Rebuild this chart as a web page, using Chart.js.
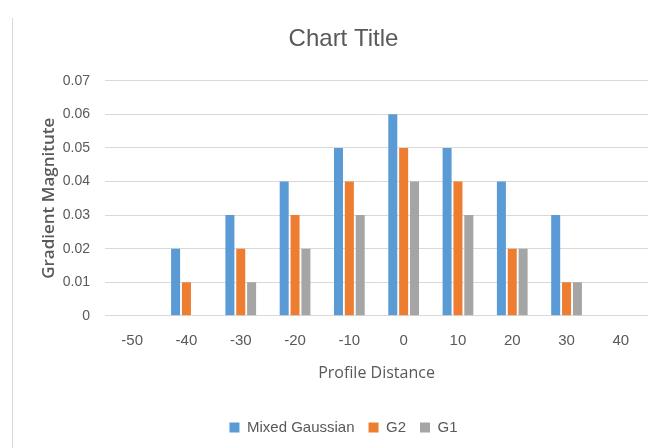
<!DOCTYPE html>
<html>
<head>
<meta charset="utf-8">
<script src="https://cdn.jsdelivr.net/npm/chart.js@4.4.1/dist/chart.umd.min.js"></script>
<style>
  html, body { margin: 0; padding: 0; background: #fff; }
  #wrap { position: relative; width: 648px; height: 448px; }
  #frame { position: absolute; left: 12px; top: 18px; width: 1px; height: 430px; background: #d9d9d9; }
  canvas { position: absolute; left: 0; top: 0; }
</style>
</head>
<body>
<div id="wrap">
  <div id="frame"></div>
  <canvas id="c" width="648" height="448"></canvas>
</div>
<script>
const categories = ["-50", "-40", "-30", "-20", "-10", "0", "10", "20", "30", "40"];
const mixedGaussian = [0, 0.02, 0.03, 0.04, 0.05, 0.06, 0.05, 0.04, 0.03, 0];
const g2 = [0, 0.01, 0.02, 0.03, 0.04, 0.05, 0.04, 0.02, 0.01, 0];
const g1 = [0, 0, 0.01, 0.02, 0.03, 0.04, 0.03, 0.02, 0.01, 0];
const yTicks = [0, 0.01, 0.02, 0.03, 0.04, 0.05, 0.06, 0.07];

const FONT = "'Liberation Sans Narrow', 'Liberation Sans', Arial, sans-serif";
const FONT2 = "'Open Sans', 'Liberation Sans', sans-serif";
const TXT = '#595959';

new Chart(document.getElementById('c'), {
  type: 'bar',
  data: {
    labels: categories,
    datasets: [
      { label: 'Mixed Gaussian', data: mixedGaussian, backgroundColor: '#5B9BD5' },
      { label: 'G2', data: g2, backgroundColor: '#ED7D31' },
      { label: 'G1', data: g1, backgroundColor: '#A5A5A5' }
    ]
  },
  options: {
    responsive: false,
    animation: false,
    devicePixelRatio: 1,
    categoryPercentage: 0.6,
    barPercentage: 0.83,
    layout: { padding: { left: 39, right: 0, top: 25, bottom: 3 } },
    plugins: {
      title: {
        display: true, text: 'Chart Title', color: TXT,
        font: { family: FONT, size: 24, weight: 'normal' },
        padding: { top: 0, bottom: 27 }
      },
      legend: {
        position: 'bottom',
        labels: {
          color: TXT, boxWidth: 10, boxHeight: 10, padding: 14,
          font: { family: FONT, size: 15 }
        }
      },
      tooltip: { enabled: false }
    },
    scales: {
      x: {
        grid: { display: false },
        border: { color: '#d9d9d9' },
        ticks: { color: TXT, font: { family: FONT, size: 15 }, padding: 8 },
        title: { display: true, text: 'Profile Distance', color: TXT,
                 font: { family: FONT2, size: 16 }, padding: { top: 6, bottom: 23 } }
      },
      y: {
        min: 0, max: 0.07,
        afterBuildTicks: (ax) => { ax.ticks = yTicks.map(v => ({ value: v })); },
        afterFit: (ax) => { ax.width = 66; },
        grid: { color: '#d9d9d9', drawTicks: false, lineWidth: 1 },
        border: { display: false },
        ticks: {
          color: TXT, font: { family: FONT, size: 14 }, padding: 15,
          callback: (v) => v === 0 ? '0' : v.toFixed(2)
        },
        title: { display: true, text: 'Gradient Magnitute', color: TXT,
                 font: { family: FONT2, size: 17, weight: '600' }, padding: { top: 0, bottom: 0 } }
      }
    }
  }
});
</script>
</body>
</html>
